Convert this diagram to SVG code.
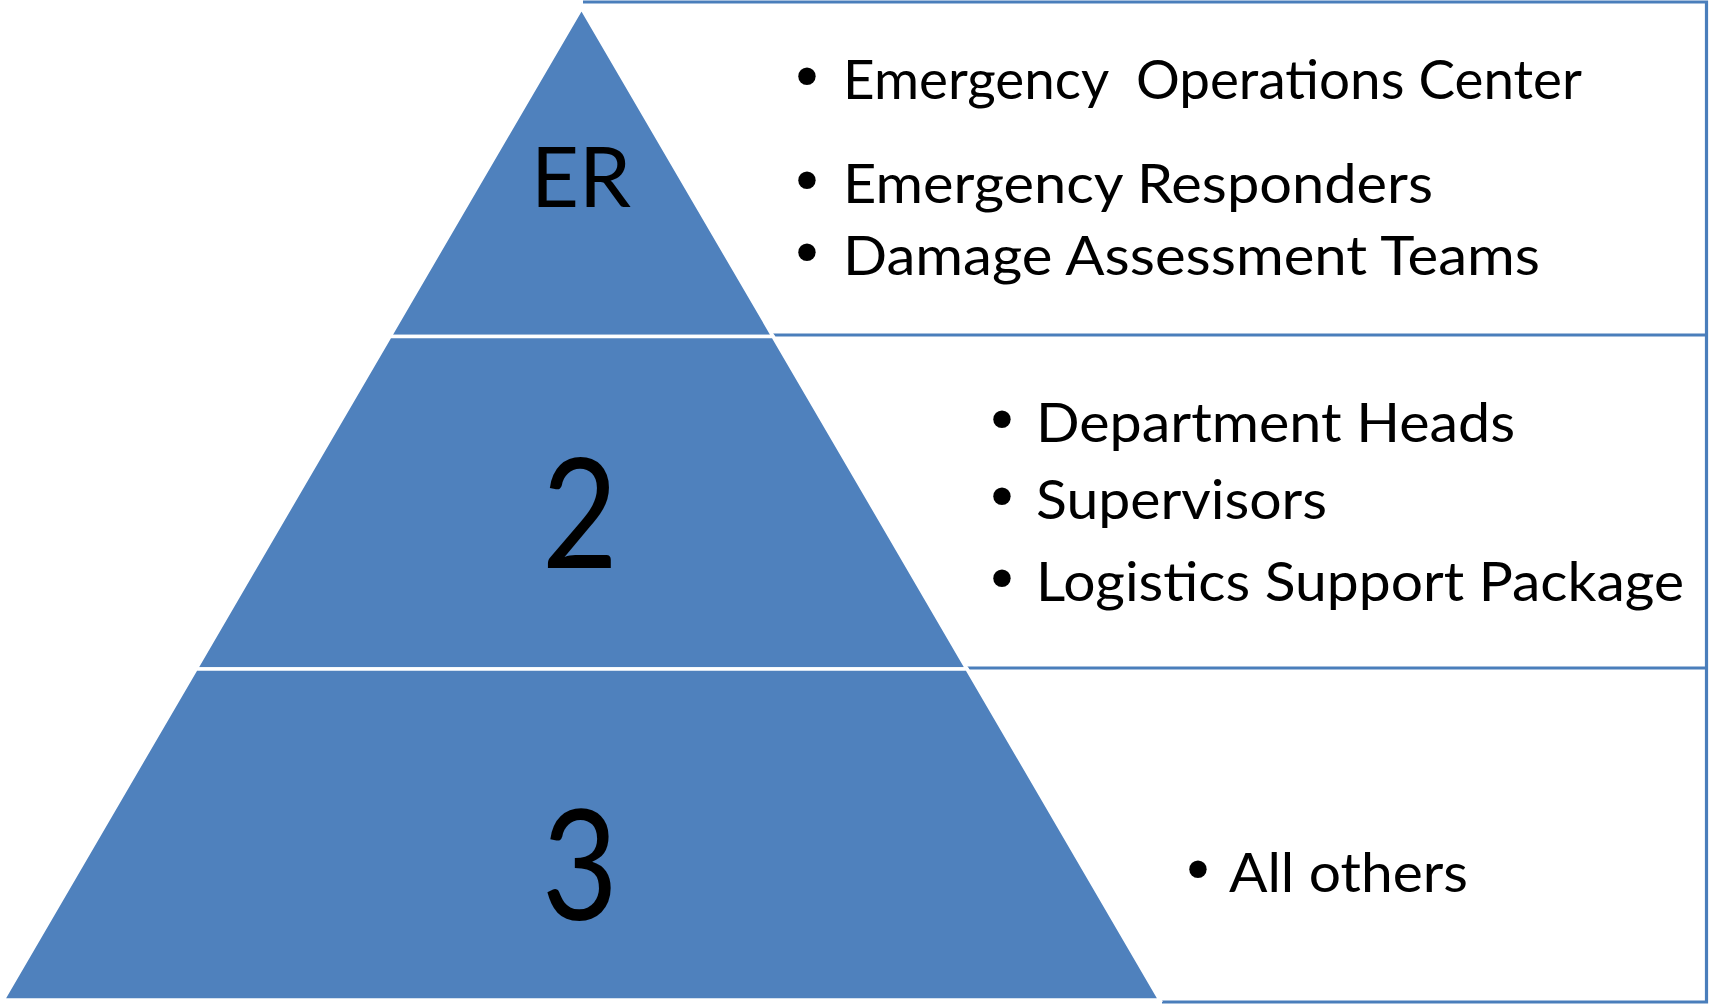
<svg xmlns="http://www.w3.org/2000/svg" width="1711" height="1004" viewBox="0 0 1711 1004">
  <style>
    .boxfill { fill: #ffffff; stroke: none; }
    .edge { fill: none; stroke: #4A7EBB; stroke-width: 3.2; }
    .tier { fill: #4F81BD; stroke: #ffffff; stroke-width: 3.5; stroke-linejoin: miter; }
    .lvl { font-family: Lato, "Open Sans", sans-serif; fill: #000000; text-anchor: middle; }
    .item { font-family: Lato, "Open Sans", sans-serif; font-size: 54px; fill: #000000; }
    .bul { font-family: "DejaVu Sans", sans-serif; font-size: 60px; fill: #000000; text-anchor: middle; }
  </style>
  <rect width="1711" height="1004" fill="#ffffff"/>
  <g id="connectors"></g>
  <g id="list-boxes">
    <rect class="boxfill" x="582" y="2" width="1124.5" height="1000"/>
    <path class="edge" d="M583,2 H1706.5 V1002 H1162"/>
    <path class="edge" d="M771,335 H1706.5"/>
    <path class="edge" d="M965,668 H1706.5"/>
  </g>
  <g id="tier-er">
    <polygon class="tier" points="581.5,8 773.1,336.5 389.9,336.5"/>
    <text class="lvl" x="581" y="207" font-size="83">ER</text>
    <text class="bul" x="807" y="99">•</text>
    <text class="item" x="843" y="99" textLength="739" lengthAdjust="spacingAndGlyphs" xml:space="preserve">Emergency  Operations Center</text>
    <text class="bul" x="807" y="203">•</text>
    <text class="item" x="843" y="203" textLength="590" lengthAdjust="spacingAndGlyphs">Emergency Responders</text>
    <text class="bul" x="807" y="275">•</text>
    <text class="item" x="843" y="275" textLength="697" lengthAdjust="spacingAndGlyphs">Damage Assessment Teams</text>
  </g>
  <g id="tier-2">
    <polygon class="tier" points="389.9,336.5 773.1,336.5 967,669 196,669"/>
    <text class="lvl" font-size="153" transform="translate(580,568) scale(0.86,1)">2</text>
    <text class="bul" x="1002" y="442">•</text>
    <text class="item" x="1036" y="442" textLength="479" lengthAdjust="spacingAndGlyphs">Department Heads</text>
    <text class="bul" x="1002" y="519">•</text>
    <text class="item" x="1036" y="519" textLength="291" lengthAdjust="spacingAndGlyphs">Supervisors</text>
    <text class="bul" x="1002" y="601">•</text>
    <text class="item" x="1036" y="601" textLength="648" lengthAdjust="spacingAndGlyphs">Logistics Support Package</text>
  </g>
  <g id="tier-3">
    <polygon class="tier" points="196,669 967,669 1160,1000 3,1000"/>
    <text class="lvl" font-size="153" transform="translate(580,920) scale(0.86,1)">3</text>
    <text class="bul" x="1198" y="892">•</text>
    <text class="item" x="1229" y="892" textLength="239" lengthAdjust="spacingAndGlyphs">All others</text>
  </g>
</svg>
